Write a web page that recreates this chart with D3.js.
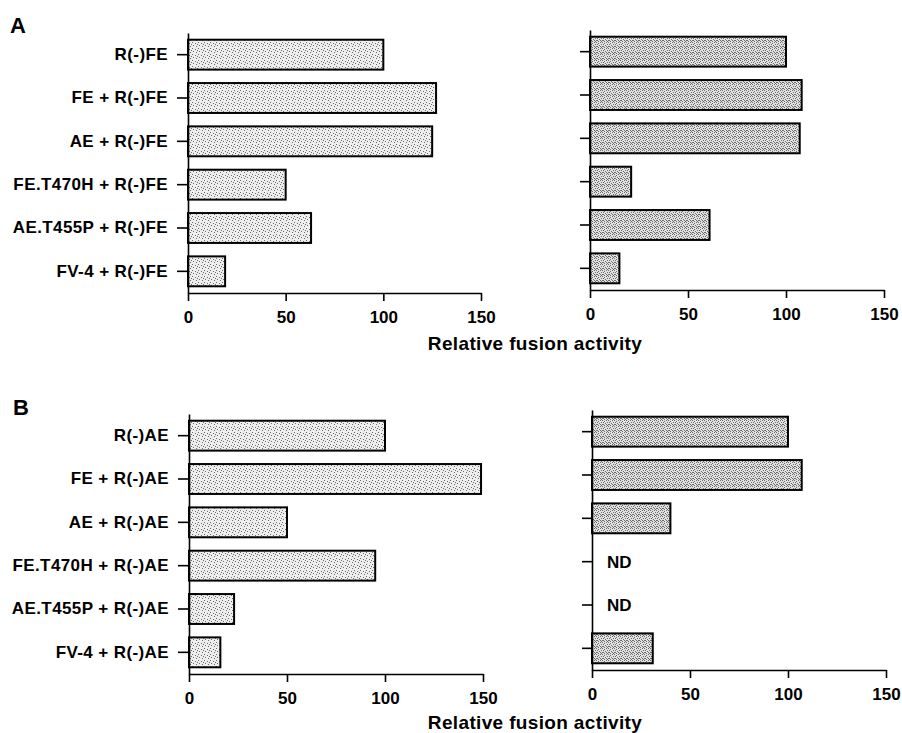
<!DOCTYPE html>
<html>
<head>
<meta charset="utf-8">
<script src="https://cdn.jsdelivr.net/npm/d3@7"></script>
<style>
  body { margin: 0; background: #fff; }
  text { font-family: "Liberation Sans", Arial, sans-serif; font-weight: bold; fill: #000; }
</style>
</head>
<body>
<div id="chart"></div>
<script>
// categories
const catsA = ['R(-)FE', 'FE + R(-)FE', 'AE + R(-)FE', 'FE.T470H + R(-)FE', 'AE.T455P + R(-)FE', 'FV-4 + R(-)FE'];
const catsB = ['R(-)AE', 'FE + R(-)AE', 'AE + R(-)AE', 'FE.T470H + R(-)AE', 'AE.T455P + R(-)AE', 'FV-4 + R(-)AE'];

// relative fusion activity (null = ND, not determined)
const aLeft = [100, 127, 125, 50, 63, 19];
const aRight = [100, 108, 107, 21, 61, 15];
const bLeft = [100, 149, 50, 95, 23, 16];
const bRight = [100, 107, 40, null, null, 31];

const xTicks = [0, 50, 100, 150];
const xTitle = 'Relative fusion activity';

const W = 902, H = 733;
const svg = d3.select('#chart').append('svg')
    .attr('width', W)
    .attr('height', H);

// stippled fills, like the scanned halftone
const defs = svg.append('defs');
function stipple(id, dots, base) {
    const p = defs.append('pattern')
        .attr('id', id)
        .attr('patternUnits', 'userSpaceOnUse')
        .attr('width', 6).attr('height', 6);
    p.append('rect').attr('width', 6).attr('height', 6).attr('fill', base);
    dots.forEach(([dx, dy]) => {
        p.append('rect').attr('x', dx).attr('y', dy).attr('width', 1).attr('height', 1).attr('fill', '#6a6a6a');
    });
}
stipple('lite', [[0, 0], [3, 1], [1, 3], [4, 4], [5, 2]], '#eeeeee');
stipple('dark', [[0, 0], [2, 0], [4, 1], [1, 2], [3, 2], [5, 3], [0, 4], [2, 4], [4, 5], [1, 5], [3, 4]], '#e2e2e2');

function panel(cats, vals, xr, yr, showLabels, fill) {
    const x = d3.scaleLinear().domain([0, 150]).range(xr);
    const y = d3.scaleBand().domain(cats).range(yr).paddingInner(0.31).paddingOuter(0.155);
    const g = svg.append('g');

    g.selectAll('rect.bar')
        .data(cats.map((c, i) => ({ c, v: vals[i] })).filter(d => d.v !== null))
        .join('rect')
        .attr('class', 'bar')
        .attr('x', x(0))
        .attr('y', d => y(d.c))
        .attr('width', d => x(d.v) - x(0))
        .attr('height', y.bandwidth())
        .attr('fill', `url(#${fill})`)
        .attr('stroke', '#000')
        .attr('stroke-width', 2);

    // ND markers
    g.selectAll('text.nd')
        .data(cats.filter((c, i) => vals[i] === null))
        .join('text')
        .attr('class', 'nd')
        .attr('x', x(0) + 15)
        .attr('y', c => y(c) + y.bandwidth() / 2)
        .attr('dy', '0.36em')
        .style('font-size', '17px')
        .text('ND');

    const yAxis = g.append('g')
        .attr('transform', `translate(${x(0)},0)`)
        .call(d3.axisLeft(y).tickSize(showLabels ? 11 : 10).tickSizeOuter(0).tickPadding(9)
            .tickFormat(showLabels ? d => d : ''));
    yAxis.selectAll('text').style('font-size', '17px').style('letter-spacing', '0.4px');

    const xAxis = g.append('g')
        .attr('transform', `translate(0,${yr[1]})`)
        .call(d3.axisBottom(x).tickValues(xTicks).tickSize(8).tickSizeOuter(0).tickPadding(10));
    xAxis.selectAll('text').style('font-size', '17px');

    g.selectAll('.domain, .tick line').attr('stroke', '#000').attr('stroke-width', 1.6);
    g.selectAll('.tick text').attr('fill', '#000').style('font-family', '"Liberation Sans", Arial, sans-serif').style('font-weight', 'bold');
}

panel(catsA, aLeft, [188, 481], [33, 293], true, 'lite');
panel(catsA, aRight, [590, 884], [30, 290], false, 'dark');
panel(catsB, bLeft, [189, 483], [414, 674], true, 'lite');
panel(catsB, bRight, [592, 886], [410, 670], false, 'dark');

// axis titles shared by both columns
svg.append('text').attr('x', 535).attr('y', 350).attr('text-anchor', 'middle')
    .style('font-size', '19px').style('letter-spacing', '0.35px').text(xTitle);
svg.append('text').attr('x', 535).attr('y', 729).attr('text-anchor', 'middle')
    .style('font-size', '19px').style('letter-spacing', '0.35px').text(xTitle);

// panel letters
svg.append('text').attr('x', 10).attr('y', 33).style('font-size', '22px').text('A');
svg.append('text').attr('x', 13).attr('y', 415).style('font-size', '22px').text('B');
</script>
</body>
</html>
